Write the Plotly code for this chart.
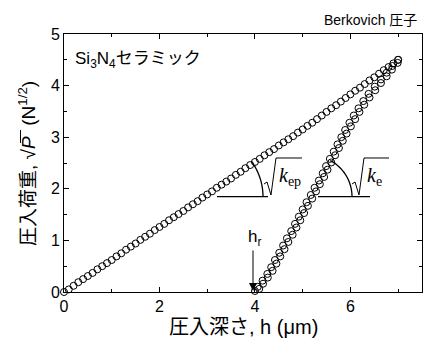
import plotly.graph_objects as go
import math

# ---------------- data ----------------
load_h = [0.00, 0.10, 0.20, 0.30, 0.40, 0.50, 0.60, 0.70, 0.80, 0.90, 1.00, 1.10, 1.20, 1.30, 1.40,
          1.50, 1.60, 1.70, 1.80, 1.90, 2.00, 2.10, 2.20, 2.30, 2.40, 2.50, 2.60, 2.70, 2.80, 2.90,
          3.00, 3.10, 3.20, 3.30, 3.40, 3.50, 3.60, 3.70, 3.80, 3.90, 4.00, 4.10, 4.20, 4.30, 4.40,
          4.50, 4.60, 4.70, 4.80, 4.90, 5.00, 5.10, 5.20, 5.30, 5.40, 5.50, 5.60, 5.70, 5.80, 5.90,
          6.00, 6.10, 6.20, 6.30, 6.40, 6.50, 6.60, 6.70, 6.80, 6.90, 7.00]
load_p = [0.00, 0.05, 0.12, 0.19, 0.25, 0.31, 0.37, 0.44, 0.50, 0.56, 0.62, 0.69, 0.75, 0.82, 0.88,
          0.94, 1.01, 1.07, 1.13, 1.20, 1.26, 1.32, 1.39, 1.45, 1.51, 1.57, 1.64, 1.70, 1.76, 1.83,
          1.89, 1.95, 2.02, 2.08, 2.14, 2.20, 2.27, 2.33, 2.40, 2.46, 2.52, 2.58, 2.65, 2.71, 2.77,
          2.84, 2.90, 2.96, 3.02, 3.09, 3.15, 3.22, 3.28, 3.35, 3.42, 3.49, 3.56, 3.62, 3.69, 3.76,
          3.83, 3.90, 3.96, 4.03, 4.10, 4.16, 4.23, 4.30, 4.36, 4.43, 4.50]

unload1_h = [7.00, 6.88, 6.76, 6.64, 6.51, 6.38, 6.27, 6.17, 6.07, 5.98, 5.89, 5.81, 5.73, 5.65,
             5.57, 5.49, 5.42, 5.34, 5.25, 5.17, 5.08, 5.00, 4.92, 4.84, 4.76, 4.67, 4.59, 4.51,
             4.42, 4.34, 4.26, 4.16, 4.06, 4.00]
unload1_p = [4.50, 4.38, 4.25, 4.12, 3.98, 3.84, 3.70, 3.56, 3.42, 3.28, 3.14, 3.00, 2.86, 2.72,
             2.58, 2.44, 2.30, 2.16, 2.02, 1.88, 1.74, 1.60, 1.46, 1.32, 1.18, 1.04, 0.90, 0.76,
             0.62, 0.48, 0.35, 0.22, 0.10, 0.02]

unload2_h = [6.99, 6.87, 6.76, 6.64, 6.52, 6.40, 6.29, 6.19, 6.10, 6.01, 5.92, 5.84, 5.76, 5.68,
             5.60, 5.52, 5.45, 5.36, 5.28, 5.20, 5.11, 5.03, 4.95, 4.87, 4.79, 4.70, 4.62, 4.53,
             4.45, 4.37, 4.27, 4.17, 4.09]
unload2_p = [4.44, 4.31, 4.18, 4.05, 3.91, 3.77, 3.63, 3.49, 3.35, 3.21, 3.07, 2.93, 2.79, 2.65,
             2.51, 2.37, 2.23, 2.09, 1.95, 1.81, 1.67, 1.53, 1.39, 1.25, 1.11, 0.97, 0.83, 0.69,
             0.55, 0.41, 0.28, 0.16, 0.06]

x_tickvals = [0, 2, 4, 6]
y_tickvals = [0, 1, 2, 3, 4, 5]

# ---------------- layout helpers ----------------
W, H = 430, 345
L, R, T, B = 64, 8, 34, 53
PW, PH = W - L - R, H - T - B


def px(x):
    return (x - L) / PW


def py(y):
    return (H - B - y) / PH


def path(points):
    return "M " + " L ".join(f"{px(a):.5f},{py(b):.5f}" for a, b in points)


def arc(cx, cy, r, a0, a1, n=24):
    pts = []
    for i in range(n + 1):
        a = math.radians(a0 + (a1 - a0) * i / n)
        pts.append((cx + r * math.cos(a), cy - r * math.sin(a)))
    return pts


FONT = "Liberation Sans, Arial, Noto Sans CJK JP, sans-serif"
SERIF = "Liberation Serif, Times New Roman, serif"

fig = go.Figure()
mk = dict(symbol="circle-open", size=7, color="black", line=dict(width=1, color="black"))
for xs, ys in [(load_h, load_p), (unload1_h, unload1_p), (unload2_h, unload2_p)]:
    fig.add_trace(go.Scatter(x=xs, y=ys, mode="markers", marker=mk, showlegend=False,
                             hoverinfo="skip", cliponaxis=False))

axis_common = dict(showgrid=False, zeroline=False, showline=True, linecolor="black", linewidth=1,
                   mirror="allticks", ticks="inside", ticklen=5, tickwidth=1, tickcolor="black",
                   tickfont=dict(family=FONT, size=16, color="black"))
fig.update_xaxes(range=[0, 7.5], tickvals=x_tickvals,
                 minor=dict(ticks="inside", ticklen=3, tickwidth=1, tickcolor="black",
                            tickvals=[1, 3, 5, 7]),
                 **axis_common)
fig.update_yaxes(range=[0, 5], tickvals=y_tickvals,
                 minor=dict(ticks="inside", ticklen=3, tickwidth=1, tickcolor="black",
                            tickvals=[0.5, 1.5, 2.5, 3.5, 4.5]),
                 **axis_common)

shapes = []
line_style = dict(color="black", width=1.3)
# slope marker for loading (k_ep)
shapes.append(dict(type="path", xref="paper", yref="paper",
                   path=path([(217, 196.7), (268, 196.7)]), line=line_style))
shapes.append(dict(type="path", xref="paper", yref="paper",
                   path=path(arc(203, 196.7, 60, 0, 36)), line=line_style))
shapes.append(dict(type="path", xref="paper", yref="paper",
                   path=path([(264, 184), (267, 182), (271, 195), (276, 158), (302, 158)]),
                   line=dict(color="black", width=1)))
# slope marker for unloading (k_e)
shapes.append(dict(type="path", xref="paper", yref="paper",
                   path=path([(318, 196.7), (370, 196.7)]), line=line_style))
shapes.append(dict(type="path", xref="paper", yref="paper",
                   path=path(arc(311, 196.7, 41, 0, 62)), line=line_style))
shapes.append(dict(type="path", xref="paper", yref="paper",
                   path=path([(352, 184), (355, 182), (359, 195), (364, 158), (389, 158)]),
                   line=dict(color="black", width=1)))
# overline of sqrt P in y-title
shapes.append(dict(type="line", xref="paper", yref="paper",
                   x0=px(20.5), x1=px(20.5), y0=py(130), y1=py(143),
                   line=dict(color="black", width=1)))

ann = []
ann.append(dict(xref="paper", yref="paper", x=px(419), y=py(20), xanchor="right", yanchor="middle",
                text="Berkovich 圧子", showarrow=False,
                font=dict(family=FONT, size=14, color="black")))
ann.append(dict(xref="paper", yref="paper", x=px(73), y=py(60), xanchor="left", yanchor="middle",
                text="Si<sub>3</sub>N<sub>4</sub>セラミック", showarrow=False,
                font=dict(family=FONT, size=17, color="black")))
ann.append(dict(xref="paper", yref="paper", x=px(277), y=py(176), xanchor="left", yanchor="middle",
                text="<i>k</i><sub>ep</sub>", showarrow=False,
                font=dict(family=SERIF, size=20, color="black")))
ann.append(dict(xref="paper", yref="paper", x=px(365), y=py(176), xanchor="left", yanchor="middle",
                text="<i>k</i><sub>e</sub>", showarrow=False,
                font=dict(family=SERIF, size=20, color="black")))
ann.append(dict(xref="paper", yref="paper", x=px(254), y=py(238), xanchor="center", yanchor="middle",
                text="h<sub>r</sub>", showarrow=False,
                font=dict(family=FONT, size=17, color="black")))
ann.append(dict(xref="paper", yref="paper", x=px(253), y=py(291), ax=0, ay=-42,
                axref="pixel", ayref="pixel", text="", showarrow=True,
                arrowhead=2, arrowsize=1.6, arrowwidth=1, arrowcolor="black"))
ann.append(dict(xref="paper", yref="paper", x=px(243), y=py(327), xanchor="center", yanchor="middle",
                text="圧入深さ, h (μm)", showarrow=False,
                font=dict(family=FONT, size=20, color="black")))
ann.append(dict(xref="paper", yref="paper", x=px(27), y=py(164), xanchor="center", yanchor="middle",
                text="圧入荷重, √<i>P</i>  (N<sup>1/2</sup>)", textangle=-90, showarrow=False,
                font=dict(family=FONT, size=19, color="black")))

fig.update_layout(width=W, height=H, margin=dict(l=L, r=R, t=T, b=B, autoexpand=False),
                  paper_bgcolor="white", plot_bgcolor="white",
                  shapes=shapes, annotations=ann, showlegend=False)

fig.write_html("out.html")
